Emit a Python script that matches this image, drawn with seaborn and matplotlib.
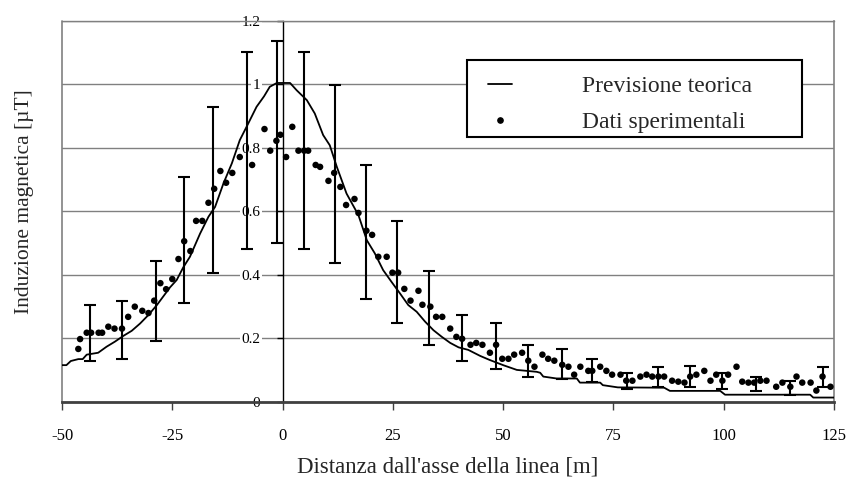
import matplotlib
matplotlib.use("Agg")
import matplotlib.pyplot as plt
import seaborn as sns
from matplotlib.lines import Line2D
from matplotlib.patches import Rectangle
from matplotlib.legend_handler import HandlerLine2D

# ---- data ----
theory_x = [-50, -49.0, -48.0, -46.3, -45.3, -44.4, -41.8, -39.9, -38.0, -36.1, -34.2,
            -32.3, -30.4, -28.5, -27.0, -25.5, -24.0, -22.5, -21.0, -18.7, -16.8, -15.3,
            -13.4, -11.5, -9.7, -7.8, -5.9, -4.2, -2.9, -1.3, 1.7, 3.2, 5.5, 7.3, 9.2,
            10.7, 12.3, 14.5, 17.2, 19.1, 20.9, 22.8, 24.7, 26.6, 28.5, 30.4, 32.3, 34.2,
            36.1, 38.0, 39.9, 42.1, 44.8, 47.0, 50.0, 53.1, 57.6, 58.4, 59.1, 62.1, 66.7,
            67.4, 72.0, 72.6, 76.0, 86.5, 87.8, 99.2, 100.3, 119.6, 120.3, 125.0]
theory_y = [0.116, 0.116, 0.129, 0.135, 0.135, 0.149, 0.155, 0.174, 0.190, 0.208, 0.224,
            0.247, 0.274, 0.305, 0.333, 0.361, 0.384, 0.424, 0.457, 0.530, 0.583, 0.614,
            0.688, 0.751, 0.824, 0.876, 0.929, 0.962, 0.992, 1.004, 1.004, 0.981, 0.950,
            0.908, 0.840, 0.808, 0.740, 0.656, 0.588, 0.509, 0.468, 0.415, 0.378, 0.342,
            0.305, 0.284, 0.253, 0.226, 0.205, 0.186, 0.172, 0.164, 0.145, 0.132, 0.116,
            0.101, 0.095, 0.092, 0.080, 0.074, 0.074, 0.061, 0.061, 0.053, 0.046, 0.045,
            0.035, 0.035, 0.023, 0.023, 0.014, 0.014]

exp_x = [-46.3, -45.9, -44.4, -43.4, -41.7, -40.9, -39.5, -38.1, -36.4, -35.0, -33.5,
         -31.8, -30.4, -29.1, -27.7, -26.4, -25.0, -23.6, -22.3, -20.9, -19.6, -18.2,
         -16.8, -15.5, -14.1, -12.8, -11.4, -9.7, -6.9, -4.1, -2.8, -1.4, -0.5, 0.8,
         2.2, 3.6, 4.9, 5.8, 7.5, 8.5, 10.4, 11.7, 13.1, 14.4, 16.3, 17.2, 19.0, 20.3,
         21.7, 23.6, 24.9, 26.2, 27.6, 29.0, 30.8, 31.7, 33.5, 34.8, 36.2, 38.0, 39.4,
         40.7, 42.6, 43.9, 45.3, 47.0, 48.4, 49.8, 51.2, 52.5, 54.3, 55.7, 57.1, 58.9,
         60.2, 61.6, 63.4, 64.8, 66.1, 67.5, 69.3, 70.2, 72.0, 73.4, 74.7, 76.6, 77.9,
         79.3, 81.1, 82.5, 83.8, 85.2, 86.5, 88.3, 89.7, 91.1, 92.4, 93.8, 95.6, 97.0,
         98.3, 99.7, 101.0, 102.9, 104.2, 105.6, 106.9, 108.3, 109.7, 111.9, 113.3,
         115.1, 116.5, 117.8, 119.7, 121.0, 122.4, 124.2]
exp_y = [0.167, 0.198, 0.218, 0.218, 0.218, 0.218, 0.237, 0.231, 0.231, 0.268, 0.300,
         0.287, 0.280, 0.319, 0.374, 0.355, 0.387, 0.450, 0.506, 0.475, 0.570, 0.570,
         0.627, 0.671, 0.727, 0.690, 0.721, 0.771, 0.746, 0.859, 0.791, 0.822, 0.841,
         0.771, 0.866, 0.791, 0.791, 0.791, 0.746, 0.740, 0.696, 0.721, 0.677, 0.620,
         0.639, 0.595, 0.539, 0.526, 0.457, 0.457, 0.407, 0.407, 0.356, 0.319, 0.350,
         0.306, 0.300, 0.268, 0.268, 0.231, 0.205, 0.199, 0.180, 0.186, 0.180, 0.155,
         0.180, 0.136, 0.136, 0.149, 0.155, 0.130, 0.111, 0.149, 0.136, 0.130, 0.117,
         0.111, 0.086, 0.111, 0.098, 0.098, 0.111, 0.098, 0.086, 0.086, 0.067, 0.067,
         0.080, 0.086, 0.080, 0.080, 0.080, 0.067, 0.064, 0.061, 0.080, 0.086, 0.098,
         0.067, 0.086, 0.067, 0.086, 0.111, 0.064, 0.061, 0.061, 0.067, 0.067, 0.048,
         0.061, 0.048, 0.080, 0.061, 0.061, 0.036, 0.080, 0.048]

bar_x = [-43.7, -36.5, -28.7, -22.4, -15.8, -8.1, -1.3, 4.9, 11.8, 18.8, 25.9, 33.2,
         40.6, 48.4, 55.7, 63.4, 70.2, 78.0, 85.2, 92.4, 99.7, 107.4, 115.1, 122.4]
bar_lo = [0.130, 0.135, 0.192, 0.312, 0.407, 0.483, 0.501, 0.483, 0.438, 0.325, 0.249,
          0.180, 0.130, 0.105, 0.080, 0.073, 0.062, 0.042, 0.048, 0.048, 0.042, 0.036,
          0.023, 0.048]
bar_hi = [0.305, 0.318, 0.443, 0.709, 0.929, 1.100, 1.136, 1.100, 0.998, 0.747, 0.570,
          0.412, 0.275, 0.249, 0.180, 0.167, 0.136, 0.092, 0.111, 0.113, 0.092, 0.080,
          0.067, 0.111]

x_ticks = [-50, -25, 0, 25, 50, 75, 100, 125]
x_tick_labels = ["-50", "-25", "0", "25", "50", "75", "100", "125"]
y_ticks = [0, 0.2, 0.4, 0.6, 0.8, 1.0, 1.2]
y_tick_labels = ["0", "0.2", "0.4", "0.6", "0.8", "1", "1.2"]

series_names = ["Previsione teorica", "Dati sperimentali"]
x_title = "Distanza dall'asse della linea [m]"
y_title = "Induzione magnetica [\u00b5T]"

# ---- styling ----
sns.set_theme(style="white")
plt.rcParams['font.family'] = ['Liberation Serif', 'DejaVu Serif']

W, H = 851, 480
fig = plt.figure(figsize=(W / 100, H / 100), dpi=100)
L, R, T, B = 62, 834, 20.7, 402
ax = fig.add_axes([L / W, 1 - B / H, (R - L) / W, (B - T) / H])

grey = '#808080'

# theory curve
sns.lineplot(x=theory_x, y=theory_y, ax=ax, color='black', linewidth=1.3,
             sort=False, estimator=None, zorder=3)
# error bars
centers = [(lo + hi) / 2 for lo, hi in zip(bar_lo, bar_hi)]
err_lo = [c - lo for c, lo in zip(centers, bar_lo)]
err_hi = [hi - c for c, hi in zip(centers, bar_hi)]
ax.errorbar(bar_x, centers, yerr=[err_lo, err_hi], fmt='none', ecolor='black',
            elinewidth=1.5, capsize=4.5, capthick=1.5, zorder=4)
# experimental points
sns.scatterplot(x=exp_x, y=exp_y, ax=ax, color='black', s=22, edgecolor='none',
                linewidth=0, zorder=5)

ax.set_xlim(-50, 125)
ax.set_ylim(0, 1.2)
ax.set_xticks(x_ticks)
ax.set_xticklabels(x_tick_labels, fontsize=12)
ax.set_yticks(y_ticks)
ax.set_yticklabels(y_tick_labels, fontsize=12)

ax.set_axisbelow(True)
ax.yaxis.grid(True, color=grey, linewidth=1.0)
ax.xaxis.grid(False)

# spines
ax.spines['left'].set_position(('data', 0))
ax.spines['left'].set_color('black')
ax.spines['left'].set_linewidth(1.0)
ax.spines['left'].set_zorder(2)
ax.spines['bottom'].set_color('#404040')
ax.spines['bottom'].set_linewidth(2.0)
ax.spines['top'].set_color(grey)
ax.spines['top'].set_linewidth(1.0)
ax.spines['right'].set_color(grey)
ax.spines['right'].set_linewidth(1.2)
ax.axvline(-50, color=grey, linewidth=1.2, clip_on=False, zorder=1)

ax.tick_params(axis='x', direction='out', length=6, width=1, color='#404040',
               pad=13, labelcolor='black', bottom=True)
ax.tick_params(axis='y', direction='out', length=4, width=1, color='black',
               pad=12, labelcolor='black', left=True)
for t in ax.yaxis.get_major_ticks():
    t.label1.set_bbox(dict(facecolor='white', edgecolor='none', pad=1.0))

# axis titles
ax.set_xlabel(x_title, fontsize=16.5, va='center', ha='center')
ax.xaxis.set_label_coords(0.5, (B - 467) / (B - T))
ax.set_ylabel(y_title, fontsize=15.5, va='center', ha='center')
ax.yaxis.set_label_coords((24 - L) / (R - L), (B - 202) / (B - T))

# legend box (drawn as a patch so its size matches the reference exactly)
def ax_x(px):
    return (px - L) / (R - L)

def ax_y(py):
    return (B - py) / (B - T)

box_l, box_r, box_t, box_b = 466.7, 802.3, 60.0, 137.3
ax.add_patch(Rectangle((ax_x(box_l), ax_y(box_b)), ax_x(box_r) - ax_x(box_l),
                       ax_y(box_t) - ax_y(box_b), transform=ax.transAxes,
                       facecolor='white', edgecolor='black', linewidth=1.5,
                       zorder=9, clip_on=False))

handles = [Line2D([], [], color='black', linewidth=1.3),
           Line2D([], [], marker='o', color='black', linestyle='none', markersize=3.8)]
leg = ax.legend(handles, series_names, loc='upper left',
                bbox_to_anchor=(ax_x(box_l), ax_y(64) - 0.2,
                                ax_x(box_r) - ax_x(box_l), 0.2), mode='expand',
                borderaxespad=0, fontsize=17, frameon=False,
                handlelength=1.42, handletextpad=2.98, borderpad=0.5,
                labelspacing=0.6,
                handler_map={Line2D: HandlerLine2D(xpad=0.42)})
leg.set_zorder(10)

fig.savefig('out.png', dpi=100, facecolor='white')
